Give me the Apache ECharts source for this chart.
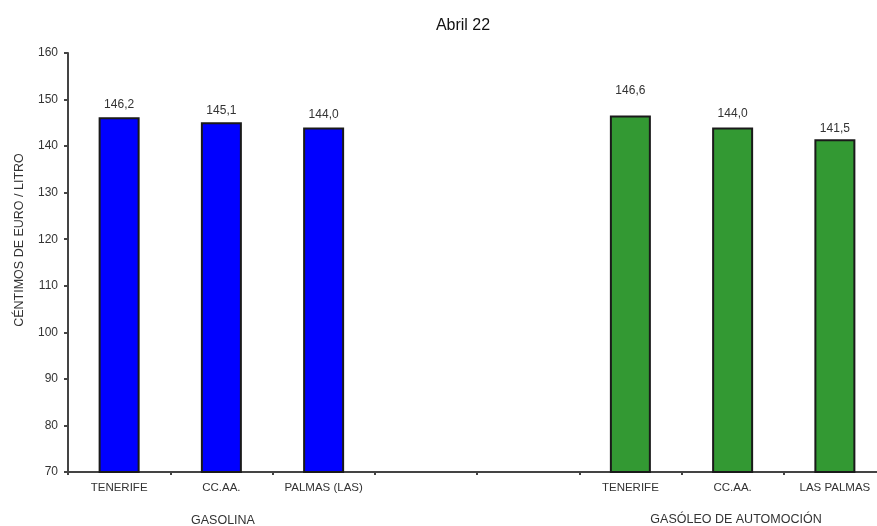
<!DOCTYPE html>
<html>
<head>
<meta charset="utf-8">
<script src="https://cdn.jsdelivr.net/npm/echarts@6/dist/echarts.min.js"></script>
<style>
  html, body { margin: 0; padding: 0; background: #fff; }
  #chart { width: 877px; height: 526px; }
</style>
</head>
<body>
<div id="chart"></div>
<script>
// Fuel prices, April 2022 (euro cents per litre)
const categories = ['TENERIFE', 'CC.AA.', 'PALMAS (LAS)', '', '', 'TENERIFE', 'CC.AA.', 'LAS PALMAS'];
const gasolina = [146.2, 145.1, 144.0, null, null, null, null, null];
const gasoleo = [null, null, null, null, null, 146.6, 144.0, 141.5];
const yTicks = { min: 70, max: 160, interval: 10 };
const yTitle = 'CÉNTIMOS DE EURO / LITRO';
const groupLabels = ['GASOLINA', 'GASÓLEO DE AUTOMOCIÓN'];

// gap between each bar top and its value label
const labelGap = [7, 6, 7, 0, 0, 19, 8, 4];

const font = 'Liberation Sans, Arial, sans-serif';
const chart = echarts.init(document.getElementById('chart'), null, { renderer: 'canvas' });

const fmt = p => p.value.toFixed(1).replace('.', ',');

function barSeries(name, values, color) {
  return {
    name: name,
    type: 'bar',
    data: values.map((v, i) => v == null ? null : { value: v, label: { distance: labelGap[i] } }),
    barWidth: 41,
    barGap: '-100%',
    itemStyle: { color: color, borderColor: '#1a1a1a', borderWidth: 2 },
    label: {
      show: true,
      position: 'top',
      formatter: fmt,
      fontFamily: font,
      fontSize: 12,
      color: '#333'
    }
  };
}

chart.setOption({
  animation: false,
  backgroundColor: '#ffffff',
  title: {
    text: 'Abril 22',
    left: 458,
    top: 13,
    textAlign: 'center',
    textStyle: { fontFamily: font, fontSize: 16, fontWeight: 'normal', color: '#111' }
  },
  // the last category runs slightly past the right edge of the canvas
  grid: { left: 68, top: 53, bottom: 54, width: 818, containLabel: false, outerBoundsMode: 'none' },
  xAxis: {
    type: 'category',
    data: categories,
    boundaryGap: true,
    axisLine: { lineStyle: { color: '#444', width: 2 } },
    axisTick: { show: true, length: 3, lineStyle: { color: '#444', width: 2 } },
    axisLabel: { interval: 0, margin: 10, fontFamily: font, fontSize: 11.5, color: '#333' }
  },
  yAxis: {
    type: 'value',
    min: yTicks.min,
    max: yTicks.max,
    interval: yTicks.interval,
    splitLine: { show: false },
    axisLine: { show: true, lineStyle: { color: '#444', width: 2 } },
    axisTick: { show: true, length: 4, lineStyle: { color: '#444', width: 2 } },
    axisLabel: { margin: 10, fontFamily: font, fontSize: 12, color: '#333' }
  },
  graphic: [
    {
      type: 'text', x: 20, y: 240, rotation: Math.PI / 2,
      style: { text: yTitle, font: '12.5px ' + font, fill: '#333', textAlign: 'center', textVerticalAlign: 'middle' }
    },
    {
      type: 'text', x: 223, y: 521,
      style: { text: groupLabels[0], font: '12.5px ' + font, fill: '#333', textAlign: 'center', textVerticalAlign: 'middle' }
    },
    {
      type: 'text', x: 736, y: 520,
      style: { text: groupLabels[1], font: '12.5px ' + font, fill: '#333', textAlign: 'center', textVerticalAlign: 'middle' }
    }
  ],
  series: [
    barSeries('GASOLINA', gasolina, '#0000ff'),
    barSeries('GASÓLEO DE AUTOMOCIÓN', gasoleo, '#339933')
  ]
});
</script>
</body>
</html>
